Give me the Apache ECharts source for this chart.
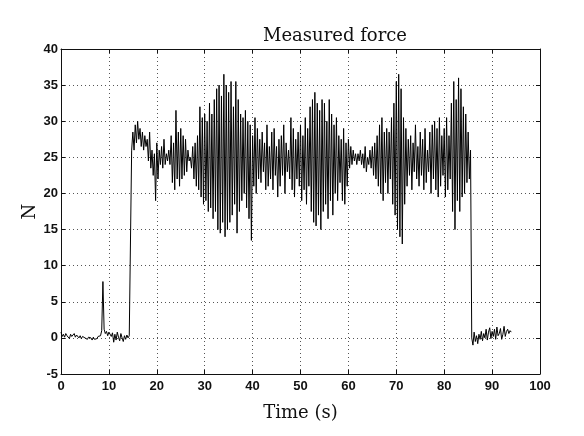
<!DOCTYPE html>
<html>
<head>
<meta charset="utf-8">
<script src="https://cdn.jsdelivr.net/npm/echarts@6/dist/echarts.min.js"></script>
<style>html,body{margin:0;padding:0;background:#fff}#c{width:584px;height:436px}</style>
</head>
<body>
<div id="c"></div>
<script>
// Sampling interval of the recorded force (s)
const sampleStep = 0.25;
// Measured force (N), one row per second, 4 samples per row
const force = [
  0.8, 0.2, 0.5, 0.1,
  0.6, 0.3, 0.4, -0.1,
  0.5, 0.2, 0.3, 0.6,
  0.1, 0.4, 0.2, 0.0,
  0.3, -0.1, 0.2, 0.1,
  0.0, 0.2, -0.2, 0.1,
  -0.1, 0.0, -0.3, 0.1,
  -0.2, 0.0, -0.1, 0.2,
  0.1, 0.3, 1.0, 7.8,
  1.2, 0.6, 0.9, 0.3,
  0.8, 1.0, 0.2, 0.7,
  -0.6, 0.5, -0.3, 0.8,
  0.1, -0.4, 0.6, 0.0,
  -0.5, 0.3, -0.2, 0.4,
  0.0, 0.3, 0.5, 26.0,
  28.5, 26.0, 29.5, 27.0,
  30.0, 27.5, 29.0, 26.5,
  28.5, 26.0, 28.0, 26.5,
  27.5, 24.5, 28.5, 23.5,
  26.0, 22.5, 25.5, 19.0,
  27.0, 22.0, 26.0, 24.0,
  26.5, 23.5, 27.5, 24.0,
  25.5, 24.5, 26.0, 24.0,
  28.0, 21.5, 27.0, 20.5,
  31.5, 22.0, 28.5, 21.0,
  29.0, 22.0, 28.0, 22.5,
  27.5, 23.0, 26.0, 24.5,
  25.0, 23.5, 26.5, 22.0,
  27.0, 21.0, 28.0, 20.5,
  32.0, 19.5, 30.5, 18.5,
  31.0, 19.0, 30.0, 17.5,
  32.5, 18.0, 31.0, 16.5,
  33.0, 17.5, 34.5, 15.0,
  35.0, 14.5, 33.5, 16.0,
  36.5, 14.0, 35.0, 15.0,
  34.0, 16.0, 35.5, 17.0,
  32.0, 18.5, 35.5, 14.5,
  33.0, 17.5, 31.0, 19.0,
  30.5, 20.0, 31.5, 18.0,
  30.0, 16.5, 29.5, 13.5,
  28.0, 21.0, 30.5, 20.0,
  29.0, 22.0, 27.5, 21.5,
  28.5, 23.0, 27.0, 20.5,
  29.5, 21.0, 26.5, 22.0,
  28.5, 20.5, 29.0, 22.5,
  26.5, 19.5, 27.5, 21.0,
  28.0, 22.5, 29.5, 20.0,
  27.0, 23.0, 26.0, 22.0,
  30.5, 20.5, 29.0, 19.5,
  27.5, 22.0, 28.5, 21.0,
  29.5, 19.0, 28.0, 20.5,
  30.5, 18.5, 29.0, 21.0,
  32.0, 17.5, 33.0, 16.0,
  34.0, 15.5, 32.5, 17.0,
  31.5, 15.0, 33.0, 17.5,
  32.5, 18.5, 30.0, 16.5,
  33.0, 19.0, 31.0, 17.0,
  29.5, 20.0, 30.5, 19.0,
  28.0, 21.5, 27.5, 19.0,
  29.0, 18.5, 27.0, 21.0,
  27.5, 23.5, 26.5, 24.0,
  26.0, 24.5, 25.5, 24.0,
  25.5, 24.5, 26.0, 24.0,
  25.5, 23.5, 26.5, 23.0,
  25.0, 24.0, 26.0, 23.5,
  26.5, 22.5, 27.0, 22.0,
  28.0, 21.0, 29.5, 20.0,
  30.5, 19.0, 28.5, 21.5,
  29.0, 20.0, 28.5, 22.0,
  30.5, 18.5, 32.5, 17.0,
  35.5, 15.0, 36.5, 14.0,
  34.5, 13.0, 30.5, 18.5,
  29.0, 21.0, 27.5, 22.5,
  28.0, 20.5, 27.0, 23.0,
  29.5, 22.0, 26.5, 21.0,
  28.5, 22.5, 27.5, 20.5,
  29.0, 21.5, 26.0, 23.0,
  28.5, 20.0, 29.5, 22.0,
  30.0, 20.5, 29.0, 19.5,
  30.5, 21.0, 28.0, 22.5,
  29.0, 19.5, 30.5, 20.5,
  28.0, 22.0, 32.5, 17.5,
  35.5, 15.0, 33.0, 19.0,
  36.0, 17.5, 34.5, 19.5,
  32.0, 20.0, 31.0, 21.5,
  28.5, 22.0, 26.0, 0.0,
  -1.0, 0.8, -0.5, 0.3,
  -0.8, 0.5, -0.2, 0.9,
  -0.4, 0.6, 0.0, 1.2,
  -0.3, 0.8, 1.4, -0.1,
  0.9, 0.2, 1.2, -0.2,
  1.5, 0.3, 0.6, 1.3,
  -0.2, 0.5, 1.6, 0.2,
  0.9, 1.2, 0.6, 1.0,
  0.8
];
const xTicks = [0, 10, 20, 30, 40, 50, 60, 70, 80, 90, 100];
const yTicks = [-5, 0, 5, 10, 15, 20, 25, 30, 35, 40];

const seriesData = force.map((v, i) => [i * sampleStep, v]);
const tickFont = { fontFamily: 'Liberation Sans, Arial, sans-serif', fontSize: 13, fontWeight: 'bold', color: '#111' };
const serif = 'DejaVu Serif, Liberation Serif, serif';

const chart = echarts.init(document.getElementById('c'), null, { renderer: 'canvas' });
chart.setOption({
  backgroundColor: '#fff',
  animation: false,
  title: {
    text: 'Measured force',
    left: 330, top: 22, textAlign: 'center',
    textStyle: { fontFamily: serif, fontSize: 18, fontWeight: 'normal', color: '#111' }
  },
  grid: { left: 61, right: 44, top: 49, bottom: 62, containLabel: false },
  xAxis: [{
    type: 'value', min: xTicks[0], max: xTicks[xTicks.length - 1], interval: 10,
    name: 'Time (s)', nameLocation: 'middle', nameGap: 30,
    nameTextStyle: { fontFamily: serif, fontSize: 18, color: '#111' },
    axisLine: { show: true, onZero: false, lineStyle: { color: '#111', width: 1 } },
    axisTick: { show: true, inside: true, length: 4, lineStyle: { color: '#111' } },
    axisLabel: Object.assign({ margin: 6 }, tickFont),
    splitLine: { show: true, lineStyle: { color: '#555', type: [1, 3], width: 1 } }
  }, {
    type: 'value', position: 'top', min: 0, max: 100, interval: 10,
    axisLine: { show: true, onZero: false, lineStyle: { color: '#111', width: 1 } },
    axisTick: { show: true, inside: true, length: 4, lineStyle: { color: '#111' } },
    axisLabel: { show: false }, splitLine: { show: false }
  }],
  yAxis: [{
    type: 'value', min: yTicks[0], max: yTicks[yTicks.length - 1], interval: 5,
    name: 'N', nameLocation: 'middle', nameGap: 22, nameRotate: 90, nameMoveOverlap: false,
    nameTextStyle: { fontFamily: serif, fontSize: 18, color: '#111' },
    axisLine: { show: true, onZero: false, lineStyle: { color: '#111', width: 1 } },
    axisTick: { show: true, inside: true, length: 4, lineStyle: { color: '#111' } },
    axisLabel: Object.assign({ margin: 3 }, tickFont),
    splitLine: { show: true, lineStyle: { color: '#555', type: [1, 3], width: 1 } }
  }, {
    type: 'value', position: 'right', min: -5, max: 40, interval: 5,
    axisLine: { show: true, onZero: false, lineStyle: { color: '#111', width: 1 } },
    axisTick: { show: true, inside: true, length: 4, lineStyle: { color: '#111' } },
    axisLabel: { show: false }, splitLine: { show: false }
  }],
  series: [{
    type: 'line', xAxisIndex: 0, yAxisIndex: 0,
    data: seriesData, showSymbol: false, symbol: 'none',
    lineStyle: { color: '#000', width: 1 }
  }]
});
</script>
</body>
</html>
